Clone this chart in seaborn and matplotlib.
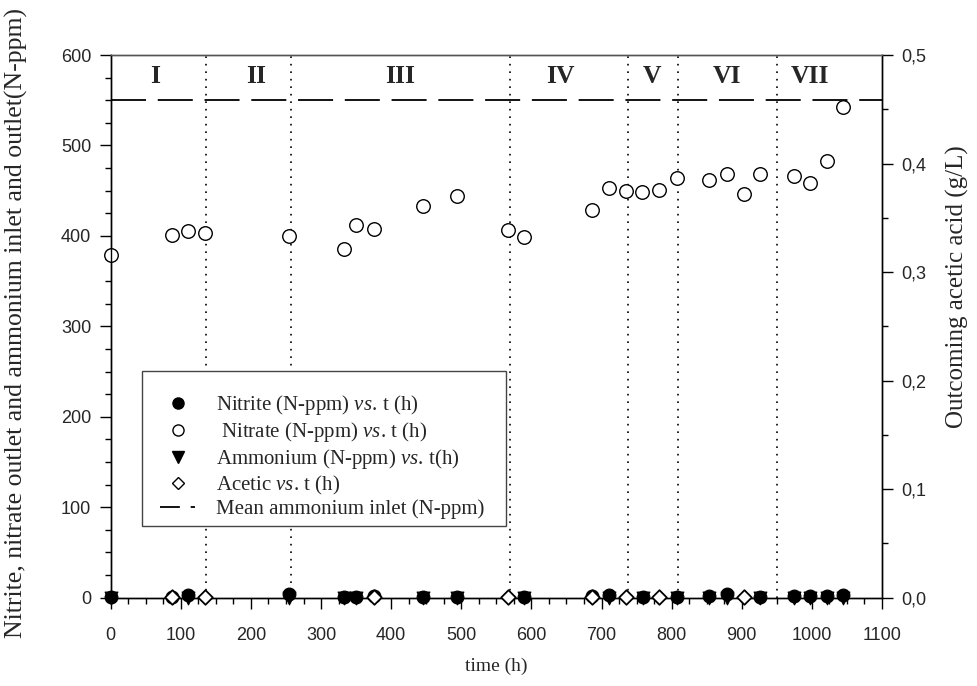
import matplotlib
matplotlib.use("Agg")
import matplotlib.pyplot as plt
import seaborn as sns
from matplotlib.lines import Line2D
from matplotlib.patches import Rectangle
from matplotlib.ticker import MultipleLocator, FuncFormatter

# ---- measured data -------------------------------------------------------
# nitrate in the outlet (N-ppm)
nitrate_t = [0, 87, 110, 135, 254, 333, 350, 375, 446, 494, 567, 589, 686,
             711, 735, 758, 782, 807, 854, 879, 903, 926, 974, 998, 1022, 1045]
nitrate_ppm = [379, 401, 405, 403, 400, 385, 412, 408, 433, 444, 407, 399, 429,
               453, 450, 448, 451, 464, 462, 468, 446, 469, 466, 459, 483, 543]

# nitrite in the outlet (N-ppm)
nitrite_t = [0, 87, 110, 254, 333, 350, 375, 446, 494, 589, 686, 711, 759,
             807, 854, 879, 926, 974, 998, 1022, 1045]
nitrite_ppm = [1, 1, 3, 4, 1, 1, 2, 1, 1, 1, 2, 3, 1,
               1, 2, 4, 1, 2, 2, 2, 3]

# ammonium in the outlet (N-ppm)
ammonium_t = [0, 110, 254, 333, 350, 446, 494, 589, 711, 759, 807, 854, 879,
              926, 974, 998, 1022, 1045]
ammonium_ppm = [0, 0, 0, 0, 0, 0, 0, 0, 0, 0, 0, 0, 0,
                0, 0, 0, 0, 0]

# outcoming acetic acid (g/L)
acetic_t = [87, 135, 375, 567, 686, 735, 782, 903]
acetic_gL = [0.001, 0.001, 0.001, 0.001, 0.001, 0.001, 0.001, 0.001]

# mean ammonium inlet (N-ppm)
mean_ammonium_inlet = 550

# operating stages
stage_bounds = [136, 257, 570, 738, 809, 950]
stage_names = ["I", "II", "III", "IV", "V", "VI", "VII"]
stage_label_t = [63, 208, 413, 641, 772, 879, 998]

# ---- style ---------------------------------------------------------------
sns.set_style("ticks")
plt.rcParams["font.family"] = ["Liberation Sans", "DejaVu Sans"]
plt.rcParams["mathtext.fontset"] = "custom"
plt.rcParams["mathtext.rm"] = "Liberation Serif"
plt.rcParams["mathtext.it"] = "Liberation Serif:italic"
SERIF = ["Liberation Serif", "DejaVu Serif"]

W, H = 978, 686
fig = plt.figure(figsize=(W / 100, H / 100), dpi=100)
ax = fig.add_axes([0.1132, 0.1287, 0.7886, 0.7911])
ax2 = ax.twinx()

# ---- series --------------------------------------------------------------
sns.scatterplot(x=nitrite_t, y=nitrite_ppm, ax=ax, marker="o", s=85,
                color="black", edgecolor="black", linewidth=0.8,
                zorder=4, clip_on=False, legend=False)
sns.scatterplot(x=ammonium_t, y=ammonium_ppm, ax=ax, marker="v", s=85,
                color="black", edgecolor="black", linewidth=0.8,
                zorder=4, clip_on=False, legend=False)
sns.scatterplot(x=nitrate_t, y=nitrate_ppm, ax=ax, marker="o", s=95,
                color="white", edgecolor="black", linewidth=1.0,
                zorder=5, clip_on=False, legend=False)
sns.scatterplot(x=acetic_t, y=acetic_gL, ax=ax2, marker="D", s=55,
                color="white", edgecolor="black", linewidth=1.3,
                zorder=5, clip_on=False, legend=False)

ax.axhline(mean_ammonium_inlet, color="black", lw=1.3,
           linestyle=(0, (19.4, 6.5)), zorder=3)
for b in stage_bounds:
    ax.axvline(b, color="black", lw=1.2, linestyle=(0, (1, 3.5)), zorder=2)
for name, t in zip(stage_names, stage_label_t):
    ax.text(t, 576, name, ha="center", va="center", fontsize=18.5,
            fontweight="bold", family=SERIF)

# ---- axes ----------------------------------------------------------------
ax.set_xlim(0, 1100)
ax.set_ylim(0, 600)
ax2.set_ylim(0, 0.5)
ax.xaxis.set_major_locator(MultipleLocator(100))
ax.xaxis.set_minor_locator(MultipleLocator(25))
ax.yaxis.set_major_locator(MultipleLocator(100))
ax.yaxis.set_minor_locator(MultipleLocator(25))
ax2.yaxis.set_major_locator(MultipleLocator(0.1))
ax2.yaxis.set_minor_locator(MultipleLocator(0.05))
ax2.yaxis.set_major_formatter(
    FuncFormatter(lambda v, p: f"{v:.1f}".replace(".", ",")))

for a in (ax, ax2):
    a.tick_params(which="major", length=8, width=1, color="black",
                  labelsize=13, pad=6, direction="out")
    a.tick_params(which="minor", length=4, width=1, color="black",
                  direction="out")
ax.tick_params(axis="x", which="major", pad=13)
ax.tick_params(axis="both", which="both", top=False, right=False)
ax2.tick_params(axis="y", which="both", left=False, right=True)
for a in (ax, ax2):
    for sp in a.spines.values():
        sp.set_linewidth(1.0)
        sp.set_color("black")
    a.spines["top"].set_color("#555555")

ax.set_xlabel("time (h)", family=SERIF, fontsize=14, labelpad=10)
ax.set_ylabel("Nitrite, nitrate outlet and ammonium inlet and outlet(N-ppm)",
              family=SERIF, fontsize=18.5)
ax.yaxis.set_label_coords(-0.107, 0.506)
ax2.set_ylabel("Outcoming acetic acid (g/L)", family=SERIF, fontsize=18)
ax2.yaxis.set_label_coords(1.083, 0.574)

# ---- legend (drawn on the upper axes so it sits above all markers) ------
handles = [
    Line2D([], [], marker="o", ls="none", color="black", markersize=8),
    Line2D([], [], marker="o", ls="none", mfc="white", mec="black",
           markersize=8, mew=1.0),
    Line2D([], [], marker="v", ls="none", color="black", markersize=8),
    Line2D([], [], marker="D", ls="none", mfc="white", mec="black",
           markersize=6, mew=1.0),
    Line2D([], [], color="black", lw=1.3, linestyle=(0, (11, 6))),
]
labels = [
    r"Nitrite (N-ppm) $\mathit{vs.}\,$t (h)",
    r" Nitrate (N-ppm) $\mathit{vs.}\,$t (h)",
    r"Ammonium (N-ppm) $\mathit{vs.}\,$t(h)",
    r"Acetic $\mathit{vs.}\,$t (h)",
    "Mean ammonium inlet (N-ppm)",
]

box_l, box_t, box_r, box_b = 142, 371, 506, 526
frame = Rectangle((box_l / W, 1 - box_b / H),
                  (box_r - box_l) / W, (box_b - box_t) / H,
                  transform=fig.transFigure, facecolor="white",
                  edgecolor="#444444", lw=1.0, zorder=9, clip_on=False)
ax2.add_patch(frame)

leg = ax2.legend(handles, labels, loc="upper left",
                 bbox_to_anchor=(160 / W, 1 - 393 / H),
                 bbox_transform=fig.transFigure, borderaxespad=0,
                 prop={"family": SERIF, "size": 15}, frameon=False,
                 handlelength=1.7, handletextpad=1.0, labelspacing=0.14,
                 borderpad=0)
leg.set_zorder(10)

fig.savefig("out.png", dpi=100)
